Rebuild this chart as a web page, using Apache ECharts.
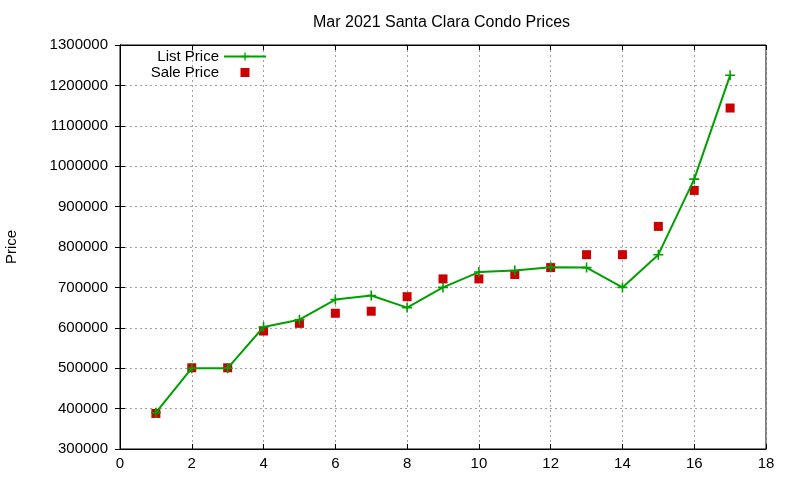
<!DOCTYPE html>
<html>
<head>
<meta charset="utf-8">
<script src="https://cdn.jsdelivr.net/npm/echarts@6/dist/echarts.min.js"></script>
<style>
  html, body { margin: 0; padding: 0; background: #fff; }
  #main { width: 800px; height: 480px; }
</style>
</head>
<body>
<div id="main"></div>
<script>
var units = [1, 2, 3, 4, 5, 6, 7, 8, 9, 10, 11, 12, 13, 14, 15, 16, 17];
var listPrice = [390000, 500000, 500000, 602000, 620000, 670000, 680000, 650000, 700000,
  738000, 742000, 750000, 749000, 700000, 781000, 968000, 1225000];
var salePrice = [388000, 501000, 501000, 592000, 611000, 636000, 641000, 677000, 721000,
  721000, 732000, 749000, 781000, 781000, 851000, 940000, 1144000];

var FONT = 'Liberation Sans, Arial, sans-serif';
var FS = 15;

function pairs(xs, ys) {
  return xs.map(function (x, i) { return [x, ys[i]]; });
}

var chart = echarts.init(document.getElementById('main'));

// filled plus sign, gnuplot point type 1
var plus = 'path://M4.2,0h1.6v4.2h4.2v1.6h-4.2v4.2h-1.6v-4.2h-4.2v-1.6h4.2z';
// square centred in a 42x10 box, so the legend key lines up under the line key
var squareKey = 'path://M0,0h0.05v0.05h-0.05z M16.5,0.5h9v9h-9z M41.95,9.95h0.05v0.05h-0.05z';

var tickStyle = { show: true, inside: true, length: 5, lineStyle: { color: '#000', width: 1 } };
var splitStyle = { show: true, lineStyle: { color: '#a0a0a0', type: [2, 3], width: 1 } };

var option = {
  animation: false,
  backgroundColor: '#fff',
  title: {
    text: 'Mar 2021 Santa Clara Condo Prices',
    left: 308,
    top: 10,
    textStyle: { fontFamily: FONT, fontSize: 16, fontWeight: 'normal', color: '#000' }
  },
  legend: {
    orient: 'vertical',
    right: 528,
    top: 44,
    align: 'right',
    itemWidth: 42,
    itemHeight: 10,
    itemGap: 1,
    textStyle: { fontFamily: FONT, fontSize: FS, color: '#000' },
    data: ['List Price', { name: 'Sale Price', icon: squareKey }]
  },
  grid: {
    left: 120, right: 34, top: 45, bottom: 31,
    outerBoundsMode: 'none',
    show: true, borderColor: '#000', borderWidth: 1
  },
  xAxis: [{
    type: 'value',
    min: 0, max: 18, interval: 2,
    axisLine: { show: true, lineStyle: { color: '#000' } },
    axisTick: tickStyle,
    axisLabel: { fontFamily: FONT, fontSize: FS, color: '#000', margin: 7 },
    splitLine: splitStyle
  }, {
    type: 'value', position: 'top',
    min: 0, max: 18, interval: 2,
    axisLine: { show: true, lineStyle: { color: '#000' } },
    axisTick: tickStyle,
    axisLabel: { show: false },
    splitLine: { show: false }
  }],
  yAxis: [{
    type: 'value',
    min: 300000, max: 1300000, interval: 100000,
    name: 'Price',
    nameLocation: 'middle',
    nameGap: 101,
    nameTextStyle: { fontFamily: FONT, fontSize: FS, color: '#000' },
    axisLine: { show: true, lineStyle: { color: '#000' } },
    axisTick: tickStyle,
    axisLabel: {
      fontFamily: FONT, fontSize: FS, color: '#000', margin: 12,
      formatter: function (v) { return String(v); }
    },
    splitLine: splitStyle
  }, {
    type: 'value', position: 'right',
    min: 300000, max: 1300000, interval: 100000,
    axisLine: { show: true, lineStyle: { color: '#000' } },
    axisTick: tickStyle,
    axisLabel: { show: false },
    splitLine: { show: false }
  }],
  series: [{
    name: 'List Price',
    type: 'line',
    data: pairs(units, listPrice),
    symbol: plus,
    symbolSize: 10,
    showAllSymbol: true,
    lineStyle: { color: '#00a000', width: 2 },
    itemStyle: { color: '#00a000' },
    z: 3
  }, {
    name: 'Sale Price',
    type: 'scatter',
    data: pairs(units, salePrice),
    symbol: 'rect',
    symbolSize: 9,
    itemStyle: { color: '#cc0000', opacity: 1 },
    z: 2
  }]
};

chart.setOption(option);
</script>
</body>
</html>
